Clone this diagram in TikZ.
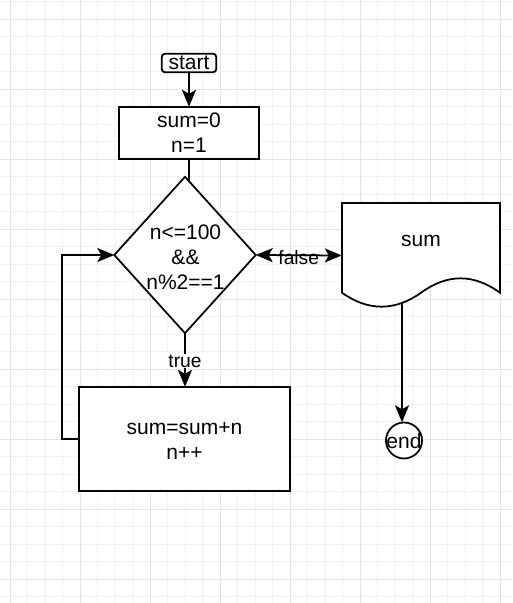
\documentclass[tikz,border=0pt]{standalone}
\usepackage{fontspec}
\setmainfont{Liberation Sans}
\usetikzlibrary{arrows.meta,shapes.geometric}
\begin{document}
\begin{tikzpicture}[x=1pt,y=-1pt,
  every node/.style={font=\fontsize{21}{25}\selectfont, inner sep=0pt},
  gridminor/.style={draw=black!5, line width=0.8pt},
  gridmajor/.style={draw=black!11, line width=0.8pt},
  shp/.style={draw=black, line width=1.75pt, fill=white},
  conn/.style={draw=black, line width=1.75pt},
  tipA/.tip={Stealth[length=17pt,width=14pt,inset=4pt]},
  arr/.style={conn, -tipA},
  lbl/.style={font=\fontsize{19.25}{23}\selectfont},
]
\useasboundingbox (0,0) rectangle (512,603);
\fill[white] (0,0) rectangle (512,603);
% grid
\foreach \i in {0,...,28} { \draw[gridminor] ({10+17.5*\i},0) -- ({10+17.5*\i},603); }
\foreach \j in {0,...,34} { \draw[gridminor] (0,{1.5+17.5*\j}) -- (512,{1.5+17.5*\j}); }
\foreach \i in {0,...,7} { \draw[gridmajor] ({10+70*\i},0) -- ({10+70*\i},603); }
\foreach \j in {0,...,8} { \draw[gridmajor] (0,{19+70*\j}) -- (512,{19+70*\j}); }

% node placeholders (shapes)
\node[minimum width=54pt, minimum height=18pt] (start) at (189,63) {};
\node[minimum width=140pt, minimum height=52pt] (init) at (189,133) {};
\node[diamond, minimum width=141pt, minimum height=156pt] (dia) at (185,255) {};
\node[minimum width=210pt, minimum height=104pt] (body) at (184.5,439) {};
\node[minimum width=158pt, minimum height=105pt] (docbox) at (421,255.5) {};
\node[circle, minimum size=36pt] (endc) at (404,440.5) {};
\coordinate (docb) at (402,290);

% connectors drawn under the shapes
\draw[conn] (init.south) -- (init.south |- dia.center);
\draw[arr] (docb) -- (docb |- endc.north);

% shapes
\draw[shp, rounded corners=3pt] (start.north west) rectangle (start.south east);
\draw[shp] (init.north west) rectangle (init.south east);
\draw[shp] (dia.north) -- (dia.east) -- (dia.south) -- (dia.west) -- cycle;
\draw[shp] (body.north west) rectangle (body.south east);
\draw[shp] (342,203) -- (500,203) -- (500,292.75)
  .. controls (473.67,273.52) and (447.33,273.52) .. (421,292.75)
  .. controls (394.67,311.32) and (368.33,311.32) .. (342,292.75) -- cycle;
\draw[shp] (endc.center) circle[radius=18pt];

% texts
\node (starttxt) at (start.center) {start};
\node[align=center] (inittxt) at (init.center) {sum=0\\n=1};
\node[align=center] (condtxt) at (185.5,257) {n<=100\\\&\&\\n\%2==1};
\node[align=center] (bodytxt) at (184.5,440.5) {sum=sum+n\\n++};
\node (doctxt) at (421,241) {sum};
\node (endtxt) at (endc.center) {end};

% connectors on top
\draw[arr] (start.south) -- (init.north);
\draw[conn, tipA-tipA] (dia.east) -- node[lbl, yshift=-2pt] {false} (docbox.west);
\draw[arr] (dia.south) -- node[lbl, fill=white, inner sep=1pt, yshift=-1pt] {true} (dia.south |- body.north);
\draw[arr] (body.west) -- ++(-17,0) |- (dia.west);
\end{tikzpicture}
\end{document}
